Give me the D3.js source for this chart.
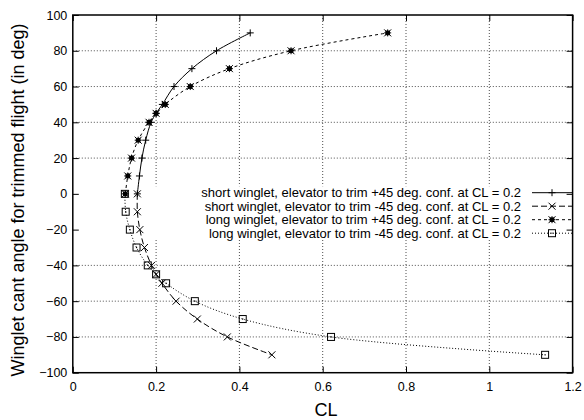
<!DOCTYPE html>
<html>
  <head>
    <meta charset="UTF-8">
    <title>Winglet cant angle</title>
    <script src="https://d3js.org/d3.v7.min.js"></script>
    <style>
      body { margin: 0; background: #fff; }
      text { font-family: "Liberation Sans", Arial, sans-serif; }
    </style>
  </head>
  <body>
    <div id="chart-container"></div>
  <script type="text/javascript">

    // Cant angles (deg) at which each configuration was trimmed
    const anglesPos = [0, 10, 20, 30, 40, 45, 50, 60, 70, 80, 90];
    const anglesNeg = [0, -10, -20, -30, -40, -45, -50, -60, -70, -80, -90];

    // CL values
    const shortPlus  = [0.155, 0.160, 0.166, 0.175, 0.188, 0.200, 0.215, 0.243, 0.286, 0.345, 0.426];
    const shortMinus = [0.155, 0.155, 0.161, 0.172, 0.189, 0.200, 0.214, 0.248, 0.299, 0.371, 0.478];
    const longPlus   = [0.126, 0.132, 0.141, 0.157, 0.183, 0.200, 0.222, 0.282, 0.376, 0.524, 0.756];
    const longMinus  = [0.125, 0.127, 0.137, 0.153, 0.180, 0.200, 0.224, 0.293, 0.408, 0.620, 1.134];

    const labels = [
        "short winglet, elevator to trim +45 deg. conf. at CL = 0.2",
        "short winglet, elevator to trim -45 deg. conf. at CL = 0.2",
        "long winglet, elevator to trim +45 deg. conf. at CL = 0.2",
        "long winglet, elevator to trim -45 deg. conf. at CL = 0.2"
    ];

    const xTicks = [0, 0.2, 0.4, 0.6, 0.8, 1, 1.2];
    const yTicks = [-100, -80, -60, -40, -20, 0, 20, 40, 60, 80, 100];

    const series = [
        {name: labels[0], cl: shortPlus,  ang: anglesPos, dash: null,  sym: "plus"},
        {name: labels[1], cl: shortMinus, ang: anglesNeg, dash: "6,3", sym: "cross"},
        {name: labels[2], cl: longPlus,   ang: anglesPos, dash: "3,3", sym: "star"},
        {name: labels[3], cl: longMinus,  ang: anglesNeg, dash: "1,2", sym: "square"}
    ];

    const width = 584;
    const height = 420;
    const margin = ({top: 15, right: 11.4, bottom: 47.3, left: 72.8});

    const x = d3.scaleLinear()
        .domain([0, 1.2])
        .range([margin.left, width - margin.right]);

    const y = d3.scaleLinear()
        .domain([-100, 100])
        .range([height - margin.bottom, margin.top]);

    const svg = d3.select("#chart-container")
        .append("svg")
        .attr("width", width)
        .attr("height", height);

    // legend layout (gnuplot style key, no box)
    const keyTextRight = 521;
    const keySampleX0 = 532, keySampleX1 = 572;
    const keyRow0 = 192.7, keyRowStep = 13.5;
    const keyTop = keyRow0 - 6.5, keyBottom = keyRow0 + 3 * keyRowStep + 6.5;

    // grid, blanked where the key sits
    svg.append("defs").append("clipPath").attr("id", "gridclip")
        .append("path")
        .attr("clip-rule", "evenodd")
        .attr("d", `M0,0H${width}V${height}H0Z M0,${keyTop}H${width}V${keyBottom}H0Z`);

    const grid = svg.append("g")
        .attr("clip-path", "url(#gridclip)")
        .attr("stroke", "#000")
        .attr("stroke-width", 0.7)
        .attr("stroke-dasharray", "1,2");

    grid.selectAll(".gx")
        .data(xTicks.slice(1, -1))
        .join("line")
        .attr("x1", d => x(d)).attr("x2", d => x(d))
        .attr("y1", margin.top).attr("y2", height - margin.bottom);

    grid.selectAll(".gy")
        .data(yTicks.slice(1, -1))
        .join("line")
        .attr("x1", margin.left).attr("x2", width - margin.right)
        .attr("y1", d => y(d)).attr("y2", d => y(d));

    // axes: ticks inward, mirrored
    const tl = 6;
    const xAxis = g => g
        .attr("transform", `translate(0,${height - margin.bottom})`)
        .call(d3.axisBottom(x).tickValues(xTicks).tickSize(-tl).tickPadding(9).tickFormat(d3.format("~g")))
        .call(g => g.select(".domain").remove());
    const xAxisTop = g => g
        .attr("transform", `translate(0,${margin.top})`)
        .call(d3.axisTop(x).tickValues(xTicks).tickSize(-tl).tickFormat(""))
        .call(g => g.select(".domain").remove());
    const yAxis = g => g
        .attr("transform", `translate(${margin.left},0)`)
        .call(d3.axisLeft(y).tickValues(yTicks).tickSize(-tl).tickPadding(5.5))
        .call(g => g.select(".domain").remove());
    const yAxisRight = g => g
        .attr("transform", `translate(${width - margin.right},0)`)
        .call(d3.axisRight(y).tickValues(yTicks).tickSize(-tl).tickFormat(""))
        .call(g => g.select(".domain").remove());

    for (const axis of [xAxis, xAxisTop, yAxis, yAxisRight]) {
        svg.append("g").call(axis)
            .call(g => g.selectAll("text")
                .attr("fill", "#000")
                .style("font-family", "Liberation Sans, Arial, sans-serif")
                .style("font-size", "12.5px"))
            .call(g => g.selectAll("line").attr("stroke", "#000"));
    }

    svg.append("rect")
        .attr("x", margin.left).attr("y", margin.top)
        .attr("width", width - margin.left - margin.right)
        .attr("height", height - margin.top - margin.bottom)
        .attr("fill", "none")
        .attr("stroke", "#000")
        .attr("stroke-width", 1.5);

    // marker drawing
    function marker(g, sym, cx, cy) {
        const s = 3.5;
        const p = g.append("g").attr("transform", `translate(${cx},${cy})`)
            .attr("stroke", "#000").attr("fill", "none").attr("stroke-width", 1);
        if (sym === "plus" || sym === "star") {
            p.append("path").attr("d", `M${-s},0H${s}M0,${-s}V${s}`);
        }
        if (sym === "cross" || sym === "star") {
            p.append("path").attr("d", `M${-s},${-s}L${s},${s}M${-s},${s}L${s},${-s}`);
        }
        if (sym === "star") {
            p.append("rect").attr("x", -1.8).attr("y", -1.8).attr("width", 3.6).attr("height", 3.6).attr("fill", "#000");
        }
        if (sym === "square") {
            p.append("rect").attr("x", -s).attr("y", -s).attr("width", 2 * s).attr("height", 2 * s);
            p.append("rect").attr("x", -0.6).attr("y", -0.6).attr("width", 1.2).attr("height", 1.2).attr("fill", "#000").attr("stroke", "none");
        }
    }

    const line = d3.line()
        .x(d => x(d[0]))
        .y(d => y(d[1]))
        .curve(d3.curveCatmullRom.alpha(0.5));

    series.forEach((s, i) => {
        const pts = s.cl.map((c, j) => [c, s.ang[j]]);
        svg.append("path")
            .attr("d", line(pts))
            .attr("fill", "none")
            .attr("stroke", "#000")
            .attr("stroke-width", 1)
            .attr("stroke-dasharray", s.dash);
        const mg = svg.append("g");
        pts.forEach(p => marker(mg, s.sym, x(p[0]), y(p[1])));

        // key entry
        const ky = keyRow0 + i * keyRowStep;
        svg.append("text")
            .attr("x", keyTextRight)
            .attr("y", ky)
            .attr("dy", "0.35em")
            .attr("text-anchor", "end")
            .style("font-size", "13px")
            .text(s.name);
        svg.append("line")
            .attr("x1", keySampleX0).attr("x2", keySampleX1)
            .attr("y1", ky).attr("y2", ky)
            .attr("stroke", "#000")
            .attr("stroke-width", 1)
            .attr("stroke-dasharray", s.dash);
        marker(svg, s.sym, (keySampleX0 + keySampleX1) / 2, ky);
    });

    // axis titles
    svg.append("text")
        .attr("x", 326)
        .attr("y", 410)
        .attr("dy", "0.35em")
        .attr("text-anchor", "middle")
        .style("font-size", "18px")
        .text("CL");

    svg.append("text")
        .attr("transform", `translate(18,200) rotate(-90)`)
        .attr("dy", "0.35em")
        .attr("text-anchor", "middle")
        .style("font-size", "18px")
        .text("Winglet cant angle for trimmed flight (in deg)");
  </script>
  </body>
</html>
